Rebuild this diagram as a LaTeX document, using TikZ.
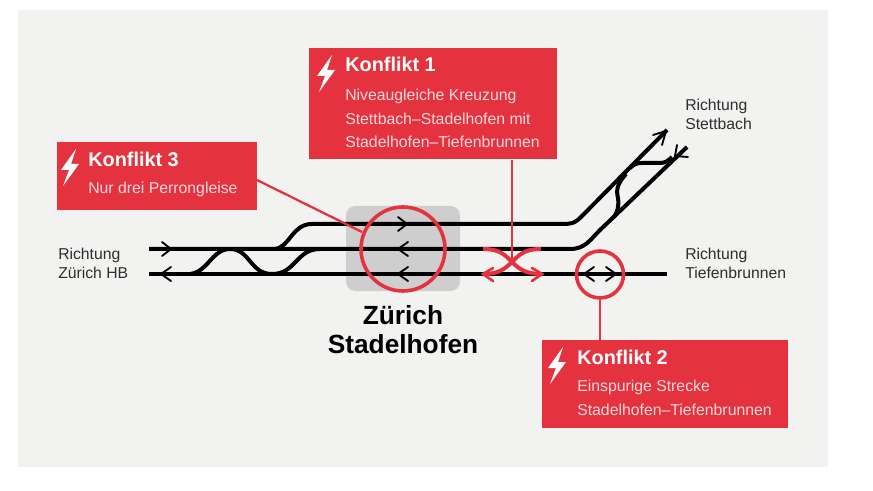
\documentclass[tikz,border=0pt]{standalone}
\usepackage{fontspec}
\setmainfont{Liberation Sans}
\definecolor{panel}{HTML}{F2F2F1}
\definecolor{stationgrey}{HTML}{CECECE}
\definecolor{konfliktred}{HTML}{E4323F}
\definecolor{bodypink}{HTML}{FBD9DB}
\definecolor{labelgrey}{HTML}{2E2E2E}
\tikzset{
  track/.style={line width=3pt,black,line join=round},
  chev/.style={line width=1.4pt,black,line cap=round,line join=round},
  redline/.style={line width=1.7pt,konfliktred},
  redcross/.style={line width=3pt,konfliktred},
  redchev/.style={line width=2pt,konfliktred,line cap=round,line join=miter},
  ring/.style={circle,draw=konfliktred,line width=2.7pt,inner sep=0pt},
  konfliktbox/.style={fill=konfliktred,draw=none,inner sep=0pt,anchor=north west},
  heading/.style={anchor=base west,inner sep=0pt,text=white,font=\fontsize{14.9}{17}\selectfont\bfseries},
  bodytext/.style={anchor=north west,inner sep=0pt,align=left,text=bodypink,font=\fontsize{11.85}{17.6}\selectfont},
  dirlabel/.style={anchor=north west,inner sep=0pt,align=left,text=labelgrey,font=\fontsize{11.8}{14.2}\selectfont},
  stationlabel/.style={anchor=center,inner sep=0pt,align=center,text=black,font=\fontsize{19.7}{21.6}\selectfont\bfseries},
  bolt/.style={fill=white,draw=none},
}
\begin{document}
\begin{tikzpicture}[x=0.75pt,y=-0.75pt]
\useasboundingbox (0,0) rectangle (873,491);
\fill[white] (0,0) rectangle (873,491);
\fill[panel] (18,10) rectangle (828,467);
\fill[stationgrey,rounded corners=7pt] (346,206) rectangle (460,291);

% tracks
\draw[track] (149,249) -- (570,249) .. controls (585,249) and (590,240) .. (600,230) -- (687,147);
\draw[track] (149,274) -- (667,274);
\draw[track] (275,249) .. controls (290,247) and (292,224) .. (312,224) -- (562,224) .. controls (574,224) and (576,222) .. (582,216) -- (667,130);
\draw[track] (190,274) .. controls (208,272) and (212,249) .. (230,249) .. controls (250,249) and (250,274) .. (272,274);
\draw[track] (272,274) .. controls (296,274) and (296,249) .. (320,249);
\draw[track] (626,174) .. controls (617,184) and (616,190) .. (618,198) .. controls (619,206) and (618,212) .. (613,218);
\draw[track] (630,168) .. controls (634,164) and (637,163) .. (642,163) -- (660,163) .. controls (665,163) and (668,161) .. (672,157);

% chevrons
\draw[chev] (162,242) -- (171,249) -- (162,256);
\draw[chev] (171,267) -- (161,274) -- (171,281);
\draw[chev] (398,217) -- (407,224) -- (398,231);
\draw[chev] (408,242) -- (398,249) -- (408,256);
\draw[chev] (408,267) -- (398,274) -- (408,281);
\draw[chev] (594,267) -- (584,274) -- (594,281);
\draw[chev] (606,267) -- (616,274) -- (606,281);
\draw[chev] (653,135) -- (666,131) -- (662,145);
\draw[chev] (677,145) -- (675,156) -- (688,157);

% rings and boxes
\node[ring,minimum size=84pt*0.75] (bigring) at (403,249) {};
\node[ring,minimum size=47pt*0.75] (smallring) at (600,274.5) {};
\node[konfliktbox,minimum width=248pt*0.75,minimum height=111pt*0.75] (k1) at (309,48) {};
\node[konfliktbox,minimum width=246pt*0.75,minimum height=88pt*0.75] (k2) at (542,340) {};
\node[konfliktbox,minimum width=200pt*0.75,minimum height=68pt*0.75] (k3) at (57,142) {};

% conflict crossing
\coordinate (crossmid) at (512,262);
\draw[redcross] (483,249) .. controls (500,249) and (505,255) .. (crossmid) .. controls (519,269) and (526,274) .. (541,274);
\draw[redcross] (541,249) .. controls (524,249) and (519,255) .. (crossmid) .. controls (505,269) and (498,274) .. (484,274);
\draw[redchev] (493,268) -- (483,274) -- (493,281);
\draw[redchev] (532,268) -- (542,274) -- (532,281);

% leaders
\draw[redline] (k1.south -| crossmid) -- (crossmid);
\draw[redline] (k2.north -| smallring) -- (smallring.south);
\coordinate (k3out) at (257,180);
\coordinate (ringin) at (362,232);
\draw[redline] (k3out) -- (ringin);

% bolts
\fill[bolt] (332,55) -- (317,76) -- (325,76) -- (319,92) -- (335,70) -- (327,70) -- cycle;
\fill[bolt] (76,149) -- (61,170) -- (69,170) -- (63,186) -- (79,164) -- (71,164) -- cycle;
\fill[bolt] (563,347) -- (548,368) -- (556,368) -- (550,384) -- (566,362) -- (558,362) -- cycle;

% texts
\node[heading] (k1h) at (345,72) {Konflikt 1};
\node[bodytext] (k1b) at (345,89) {Niveaugleiche Kreuzung\\Stettbach–Stadelhofen mit\\Stadelhofen–Tiefenbrunnen};
\node[heading] (k2h) at (577,364) {Konflikt 2};
\node[bodytext] (k2b) at (577,380) {Einspurige Strecke\\Stadelhofen–Tiefenbrunnen};
\node[heading] (k3h) at (88,167) {Konflikt 3};
\node[bodytext] (k3b) at (88,182) {Nur drei Perrongleise};
\node[stationlabel] (station) at (403,330) {Zürich\\Stadelhofen};
\node[dirlabel] (dz) at (58,248) {Richtung\\Zürich HB};
\node[dirlabel] (ds) at (685,99) {Richtung\\Stettbach};
\node[dirlabel] (dt) at (685,248) {Richtung\\Tiefenbrunnen};
\end{tikzpicture}
\end{document}
